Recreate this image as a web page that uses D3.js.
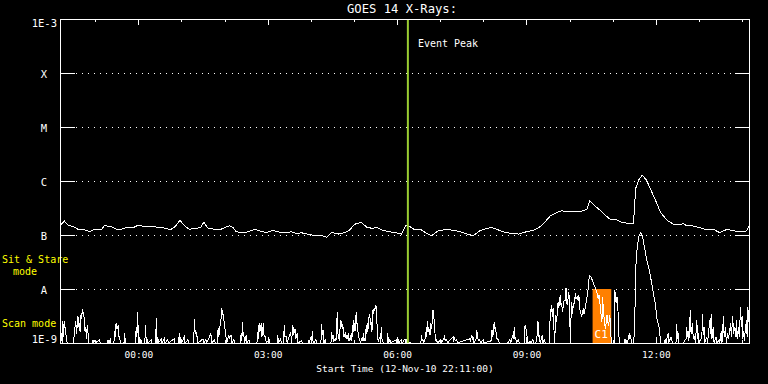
<!DOCTYPE html>
<html><head><meta charset="utf-8">
<script src="https://cdn.jsdelivr.net/npm/d3@7"></script>
<style>
body{margin:0;background:#000;}
svg{display:block;background:#000;}
text{font-family:"DejaVu Sans Mono",monospace;}
</style>
</head><body>
<svg id="chart" width="768" height="384"></svg>
<script>
// ---------- data ----------
const titleText = "GOES 14 X-Rays:";
const startISO = "2010-11-12T22:11:00Z";
const spanMinutes = 960;
const xLabel = "Start Time (12-Nov-10 22:11:00)";
const levelValues = [1e-9, 1e-8, 1e-7, 1e-6, 1e-5, 1e-4, 1e-3];
const levelLabels = ["1E-9", "A", "B", "C", "M", "X", "1E-3"];
const hourTickLabels = ["00:00", "03:00", "06:00", "09:00", "12:00"];
const eventPeakMinute = 484;           // 06:15
const eventLabel = "Event Peak";
const sitStareWindow = [741, 767];     // minutes after start
const flareLabel = "C1";
const modeLabels = ["Sit & Stare", "mode", "Scan mode"];

// 1-8 A channel: [minutes after start, flux W/m^2]
const longChannel = [[0,1.5e-7],[2,1.58e-7],[6,1.82e-7],[11,1.53e-7],[18,1.43e-7],[25,1.28e-7],[32,1.29e-7],[41,1.15e-7],[48,1.28e-7],[57,1.24e-7],[62,1.49e-7],[71,1.43e-7],[78,1.28e-7],[85,1.28e-7],[92,1.37e-7],[102,1.37e-7],[109,1.53e-7],[118,1.41e-7],[129,1.43e-7],[139,1.37e-7],[148,1.33e-7],[153,1.24e-7],[160,1.43e-7],[167,1.87e-7],[173,1.49e-7],[180,1.28e-7],[190,1.33e-7],[196,1.39e-7],[200,1.72e-7],[206,1.33e-7],[215,1.28e-7],[224,1.28e-7],[229,1.37e-7],[236,1.49e-7],[241,1.37e-7],[245,1.15e-7],[255,1.10e-7],[262,1.15e-7],[271,1.28e-7],[278,1.19e-7],[287,1.10e-7],[296,1.22e-7],[306,1.12e-7],[315,1.10e-7],[322,1.15e-7],[329,1.07e-7],[336,1.10e-7],[345,1.03e-7],[355,9.7e-8],[364,9.7e-8],[371,9.1e-8],[378,1.12e-7],[387,1.04e-7],[397,1.12e-7],[403,1.24e-7],[410,1.58e-7],[419,1.72e-7],[427,1.39e-7],[434,1.33e-7],[441,1.37e-7],[448,1.24e-7],[457,1.15e-7],[466,1.12e-7],[475,1.04e-7],[481,1.49e-7],[487,1.43e-7],[494,1.24e-7],[503,1.24e-7],[510,1.07e-7],[517,9.7e-8],[526,1.19e-7],[538,1.28e-7],[547,1.22e-7],[557,1.15e-7],[566,1.04e-7],[575,9.7e-8],[584,1.19e-7],[594,1.33e-7],[601,1.37e-7],[610,1.24e-7],[619,1.12e-7],[628,1.07e-7],[638,1.04e-7],[649,1.15e-7],[659,1.22e-7],[668,1.43e-7],[675,1.76e-7],[682,2.25e-7],[691,2.59e-7],[698,2.82e-7],[705,2.67e-7],[714,2.70e-7],[726,2.78e-7],[733,2.99e-7],[737,4.32e-7],[743,3.59e-7],[751,2.90e-7],[758,2.35e-7],[765,1.98e-7],[775,1.90e-7],[781,1.74e-7],[788,1.66e-7],[798,1.60e-7],[799,2.90e-7],[801,7.32e-7],[805,1.04e-6],[810,1.28e-6],[816,1.04e-6],[821,7.32e-7],[828,4.58e-7],[835,2.70e-7],[844,1.90e-7],[853,1.60e-7],[863,1.53e-7],[867,1.66e-7],[872,1.47e-7],[881,1.47e-7],[893,1.33e-7],[900,1.24e-7],[909,1.28e-7],[918,1.10e-7],[928,1.28e-7],[937,1.20e-7],[946,1.15e-7],[955,1.19e-7],[960,1.53e-7]];

// 0.5-4 A channel: [minutes after start, flux W/m^2]
const shortChannel = [[0,1.5e-9],[2,1.5e-9],[3,1e-9],[4,2.5e-9],[5,1.3e-9],[6,2.5e-9],[8,1.5e-9],[10,1e-9],[14,1e-9],[19,1e-9],[20,1.7e-9],[22,2.5e-9],[23,1.5e-9],[25,3.1e-9],[26,2.0e-9],[27,2.3e-9],[28,1.6e-9],[29,3.3e-9],[30,2.8e-9],[31,4.2e-9],[32,3.5e-9],[33,3.8e-9],[34,2.2e-9],[35,1.6e-9],[36,2.0e-9],[37,1.2e-9],[38,2.15e-9],[39,1.5e-9],[40,1e-9],[45,1e-9],[46,1.15e-9],[47,1e-9],[48,1.15e-9],[49,1e-9],[55,1.15e-9],[56,1e-9],[66,1e-9],[67,1.15e-9],[68,1e-9],[70,1.15e-9],[71,1e-9],[75,1e-9],[76,1.7e-9],[77,1.3e-9],[78,2.3e-9],[79,1.8e-9],[81,2.15e-9],[82,1.3e-9],[83,1.3e-9],[84,1e-9],[89,1e-9],[90,1.5e-9],[91,1e-9],[105,1e-9],[106,2.0e-9],[107,1.3e-9],[108,3.8e-9],[109,1.3e-9],[110,1e-9],[111,1.3e-9],[112,1e-9],[113,1.15e-9],[114,1e-9],[118,1e-9],[119,2.15e-9],[120,1e-9],[121,1.2e-9],[122,1e-9],[127,1.15e-9],[128,1e-9],[133,1e-9],[134,2.9e-9],[135,1e-9],[136,1.3e-9],[137,1e-9],[141,1.2e-9],[142,1e-9],[145,1.2e-9],[146,1e-9],[150,1.15e-9],[151,1e-9],[159,1.2e-9],[160,1e-9],[165,1e-9],[166,1.5e-9],[167,1e-9],[168,1.3e-9],[169,1e-9],[173,1.3e-9],[174,1e-9],[178,1.15e-9],[179,1e-9],[186,1e-9],[187,2.75e-9],[188,1.5e-9],[189,1.7e-9],[190,1.3e-9],[191,1.3e-9],[192,1e-9],[199,1.2e-9],[200,1e-9],[203,1.15e-9],[204,1e-9],[210,1.5e-9],[211,1e-9],[215,1.15e-9],[216,1e-9],[219,1e-9],[220,1.9e-9],[221,1.3e-9],[223,2.3e-9],[224,2.8e-9],[225,4.4e-9],[226,3.7e-9],[227,3.3e-9],[228,2.6e-9],[229,2.3e-9],[230,1.5e-9],[231,1.3e-9],[232,1e-9],[235,1.4e-9],[236,1.2e-9],[237,1.4e-9],[238,1.4e-9],[239,1e-9],[242,1.15e-9],[243,1e-9],[251,1e-9],[252,1.5e-9],[253,1.1e-9],[254,2.4e-9],[255,1.3e-9],[256,1.3e-9],[257,1e-9],[259,1.4e-9],[260,1e-9],[263,1.15e-9],[264,1e-9],[274,1e-9],[275,1.6e-9],[276,1.2e-9],[277,2.3e-9],[278,1.6e-9],[280,2.3e-9],[281,1.3e-9],[283,2.3e-9],[284,1.3e-9],[286,1.3e-9],[287,1e-9],[291,1.15e-9],[292,1e-9],[302,1e-9],[303,1.4e-9],[304,1e-9],[307,1.2e-9],[308,1e-9],[311,1e-9],[312,2.15e-9],[313,1.3e-9],[315,1.3e-9],[316,1e-9],[321,1.6e-9],[322,1e-9],[324,2.15e-9],[325,1.4e-9],[327,1.8e-9],[328,1.2e-9],[330,1.5e-9],
[331,1e-9],[336,1.1e-9],[337,1e-9],[345,1e-9],[346,1.15e-9],[347,1e-9],[349,1.3e-9],[350,1e-9],[351,1.65e-9],[352,1.1e-9],[353,1e-9],[356,1.15e-9],[357,1e-9],[363,1e-9],[364,2.2e-9],[365,1.4e-9],[366,1.75e-9],[367,1e-9],[369,1.15e-9],[370,1e-9],[377,1e-9],[378,1.6e-9],[379,1.2e-9],[380,1.4e-9],[381,1.1e-9],[383,1.2e-9],[384,1.1e-9],[385,2.4e-9],[386,3.7e-9],[387,1.2e-9],[388,1.3e-9],[389,1.1e-9],[390,2.7e-9],[391,2.0e-9],[392,2.6e-9],[393,1.8e-9],[394,2.0e-9],[395,1.3e-9],[397,1.5e-9],[398,1.2e-9],[399,1.4e-9],[400,1.2e-9],[401,1.5e-9],[402,1.1e-9],[404,1.3e-9],[405,1.1e-9],[406,1.5e-9],[407,1.3e-9],[408,2.7e-9],[409,1.6e-9],[410,2.3e-9],[411,1.7e-9],[412,3.8e-9],[413,2.3e-9],[414,2.3e-9],[415,1.3e-9],[417,1.15e-9],[418,1e-9],[420,1.2e-9],[421,1.1e-9],[422,1.5e-9],[423,1.1e-9],[424,1.2e-9],[425,1.1e-9],[426,2.15e-9],[427,1.5e-9],[428,2.3e-9],[429,1.8e-9],[430,3.1e-9],[431,3.3e-9],[432,2.2e-9],[433,2.3e-9],[434,1.6e-9],[435,4.1e-9],[436,3.5e-9],[437,4.4e-9],[438,3.9e-9],[439,5.0e-9],[440,4.6e-9],[441,2.3e-9],[442,1.2e-9],[443,1.1e-9],[445,1.3e-9],[446,1e-9],[447,2.0e-9],[448,1.2e-9],[449,1.1e-9],[450,1e-9],[455,1e-9],[456,1.5e-9],[457,1e-9],[459,1.15e-9],[460,1e-9],[468,1.15e-9],[469,1e-9],[470,1.3e-9],[471,1e-9],[475,1.15e-9],[476,1e-9],[480,1.2e-9],[481,1e-9],[482,1.1e-9],[483,1e-9],[487,1.05e-9],[488,1e-9],[502,1e-9],[503,1.4e-9],[504,1.1e-9],[505,1.15e-9],[506,1e-9],[508,1.2e-9],[509,1.6e-9],[510,1.3e-9],[511,2.5e-9],[512,1.6e-9],[513,2.0e-9],[514,1.6e-9],[515,1.4e-9],[516,2.3e-9],[517,1.8e-9],[518,2.7e-9],[519,4.1e-9],[520,3.2e-9],[521,2.3e-9],[522,1.3e-9],[523,1.1e-9],[524,1.15e-9],[525,1e-9],[530,1.15e-9],[531,1e-9],[534,1.2e-9],[535,1.3e-9],[536,1.1e-9],[538,1.15e-9],[539,1e-9],[547,1.3e-9],[548,1.1e-9],[549,1.2e-9],[550,1.1e-9],[552,1.15e-9],[553,1e-9],[570,1.2e-9],[571,1.1e-9],[573,1.4e-9],[574,1.2e-9],[575,1.3e-9],[576,1e-9],[579,1.2e-9],[580,1.7e-9],[581,1.3e-9],[582,1.1e-9],[584,1.15e-9],[585,1e-9],[589,1.15e-9],[590,1e-9],[600,1.1e-9],[601,1.75e-9],[602,1.3e-9],[603,1.5e-9],[604,2.4e-9],[605,1.8e-9],[606,2.0e-9],[607,1.4e-9],[608,1.2e-9],[610,1.15e-9],[611,1e-9],[623,1e-9],[624,1.06e-9],[626,1.15e-9],[627,1e-9],[630,1.4e-9],[631,1.2e-9],[632,1.95e-9],[633,1.2e-9],[634,1.3e-9],[635,1e-9],[638,1.15e-9],[639,1e-9],[646,1e-9],[647,2.15e-9],[648,1.9e-9],[649,1.6e-9],[650,1.3e-9],[651,1e-9],[654,1.06e-9],[655,1e-9],[658,1.15e-9],[659,1e-9],
[662,1e-9],[664,1.4e-9],[665,2.5e-9],[666,1.3e-9],[667,1.4e-9],[668,1e-9],[671,1.4e-9],[672,1e-9],[674,1.2e-9],[675,1e-9],[681,1e-9],[682,3.5e-9],[684,5.0e-9],[685,3.0e-9],[686,4.4e-9],[687,2.2e-9],[688,1e-9],[690,3.3e-9],[691,2.5e-9],[693,5.8e-9],[694,4.5e-9],[696,7.7e-9],[697,5.0e-9],[698,5.4e-9],[699,3.8e-9],[700,4.7e-9],[701,6.0e-9],[703,6.2e-9],[704,1.06e-8],[705,5.5e-9],[706,5.0e-9],[707,7.0e-9],[708,8.9e-9],[709,5.0e-9],[710,1e-9],[711,3.0e-9],[712,5.8e-9],[713,3.5e-9],[714,4.7e-9],[716,6.0e-9],[717,8.3e-9],[718,6.5e-9],[720,7.2e-9],[721,6.0e-9],[722,7.7e-9],[723,4.5e-9],[724,3.8e-9],[726,3.1e-9],[728,4.4e-9],[729,3.5e-9],[730,3.8e-9],[732,5.8e-9],[734,8.0e-9],[735,1.03e-8],[736,1.5e-8],[737,1.77e-8],[739,1.65e-8],[741,1.4e-8],[743,1.19e-8],[745,1.03e-8],[747,8.5e-9],[749,6.5e-9],[750,7.7e-9],[751,5.5e-9],[752,5.0e-9],[753,3.0e-9],[754,2.5e-9],[755,7.2e-9],[756,4.0e-9],[757,2.9e-9],[758,2.2e-9],[759,1.8e-9],[760,2.5e-9],[761,3.3e-9],[762,2.5e-9],[763,2.1e-9],[764,2.5e-9],[765,3.3e-9],[766,2.0e-9],[767,1e-9],[771,1e-9],[772,9.6e-9],[773,6.0e-9],[774,5.8e-9],[775,7.2e-9],[776,4.4e-9],[777,3.0e-9],[778,1e-9],[785,1e-9],[786,1.2e-9],[787,1e-9],[788,1.1e-9],[789,1e-9],[791,1.2e-9],[792,1.5e-9],[793,1.2e-9],[794,1.4e-9],[795,1e-9],[798,1e-9],[799,1.5e-9],[800,4.4e-9],[801,2.4e-8],[802,3.8e-8],[803,5.6e-8],[804,7.0e-8],[805,8.7e-8],[806,1.0e-7],[808,1.12e-7],[809,1.05e-7],[811,8.7e-8],[813,6.1e-8],[815,4.3e-8],[817,3.2e-8],[819,2.5e-8],[820,2.25e-8],[822,1.58e-8],[824,1.1e-8],[826,7.7e-9],[828,5.5e-9],[829,4.4e-9],[831,2.5e-9],[833,2.15e-9],[835,1.3e-9],[836,1e-9],[841,1e-9],[842,1.2e-9],[843,1e-9],[846,1.5e-9],
[847,1e-9],[850,1.3e-9],[851,1.2e-9],[852,1e-9],[857,1e-9],[858,2.2e-9],[859,1.2e-9],[860,1.5e-9],[861,1e-9],[867,1e-9],[871,1.2e-9],[872,2.0e-9],[873,1.3e-9],[874,1.7e-9],[875,1.1e-9],[877,4.1e-9],[878,1.5e-9],[880,2.3e-9],[881,1.2e-9],[883,1.3e-9],[884,1e-9],[886,2.7e-9],[887,1.2e-9],[888,1.5e-9],[889,1e-9],[893,1.3e-9],[894,3.5e-9],[895,1.4e-9],[896,2.0e-9],[897,1e-9],[900,1.3e-9],[901,1e-9],[904,2.7e-9],[905,1.5e-9],[906,3.5e-9],[907,1.2e-9],[909,2.0e-9],[910,1e-9],[913,1.3e-9],[914,1e-9],[917,1.15e-9],[918,1e-9],[920,1.7e-9],[921,1e-9],[923,3.1e-9],[924,1.3e-9],[926,2.0e-9],[927,1e-9],[929,1.5e-9],[930,1.2e-9],[933,2.3e-9],[934,1.3e-9],[936,3.1e-9],[937,1.5e-9],[939,2.0e-9],[940,1.3e-9],[941,2.7e-9],[942,1.2e-9],[944,2.0e-9],[945,1.3e-9],[947,4.7e-9],[948,2.0e-9],[949,3.1e-9],[950,1.2e-9],[951,1.7e-9],[952,1.1e-9],[955,2.7e-9],[956,1.3e-9],[957,4.7e-9],[958,2.5e-9],[960,3.5e-9]];

// ---------- layout ----------
const L = 60, R = 750, T = 19, B = 343;
const svg = d3.select("#chart");
const start = new Date(startISO);
const toDate = m => new Date(start.getTime() + m * 60000);
const end = toDate(spanMinutes);

const x = d3.scaleUtc().domain([start, end]).range([L, R]);
const y = d3.scaleLog().domain([levelValues[0], levelValues[levelValues.length - 1]]).range([B, T]).clamp(true);

function label(xp, yp, txt, opts) {
  return svg.append("text").attr("x", xp).attr("y", yp)
    .attr("fill", opts.fill || "#fff").attr("font-size", opts.size || 10)
    .attr("text-anchor", opts.anchor || "start").text(txt);
}

// title
label(402, 13, titleText, {anchor: "middle", size: 12.2});

// hour ticks
const hourDates = d3.utcHour.range(d3.utcHour.ceil(start), end);
const labelDates = hourTickLabels.map(s => {
  const [hh, mm] = s.split(":").map(Number);
  return hourDates.find(d => d.getUTCHours() === hh && d.getUTCMinutes() === mm);
});
function tickLen(d){ return labelDates.some(ld => ld && ld.getTime() === d.getTime()) ? 6 : 3; }

const gTop = svg.append("g").attr("transform", `translate(0,${T})`);
gTop.selectAll("line").data(hourDates).join("line")
  .attr("x1", d => Math.round(x(d)) + 0.5).attr("x2", d => Math.round(x(d)) + 0.5)
  .attr("y1", 0).attr("y2", d => tickLen(d)).attr("stroke", "#fff").attr("shape-rendering", "crispEdges");
const gBot = svg.append("g").attr("transform", `translate(0,${B})`);
gBot.selectAll("line").data(hourDates).join("line")
  .attr("x1", d => Math.round(x(d)) + 0.5).attr("x2", d => Math.round(x(d)) + 0.5)
  .attr("y1", 0).attr("y2", d => -tickLen(d)).attr("stroke", "#fff").attr("shape-rendering", "crispEdges");

// bottom axis labels via d3 axis
const xAxis = d3.axisBottom(x).tickValues(labelDates).tickSize(0).tickPadding(8)
  .tickFormat((d, i) => hourTickLabels[i]);
const gx = svg.append("g").attr("transform", `translate(0,${B})`).call(xAxis);
gx.select(".domain").remove();
gx.selectAll("text").attr("fill", "#fff").attr("font-size", 9.5)
  .attr("font-family", "DejaVu Sans Mono, monospace");

label(405, 372, xLabel, {anchor: "middle", size: 9.5});

// level grid lines (dotted) + side ticks
const inner = levelValues.slice(1, -1);
svg.selectAll(".grid").data(inner).join("line").attr("class", "grid")
  .attr("x1", 76).attr("x2", 735)
  .attr("y1", d => Math.round(y(d)) + 0.5).attr("y2", d => Math.round(y(d)) + 0.5)
  .attr("stroke", "#fff").attr("stroke-dasharray", "1,5").attr("shape-rendering", "crispEdges");
svg.selectAll(".ltick").data(inner).join("line").attr("class", "ltick")
  .attr("x1", L).attr("x2", L + 15)
  .attr("y1", d => Math.round(y(d)) + 0.5).attr("y2", d => Math.round(y(d)) + 0.5)
  .attr("stroke", "#fff").attr("shape-rendering", "crispEdges");
svg.selectAll(".rtick").data(inner).join("line").attr("class", "rtick")
  .attr("x1", R - 15).attr("x2", R)
  .attr("y1", d => Math.round(y(d)) + 0.5).attr("y2", d => Math.round(y(d)) + 0.5)
  .attr("stroke", "#fff").attr("shape-rendering", "crispEdges");

// y labels
const lastI = levelValues.length - 1;
svg.selectAll(".ylab").data(levelValues).join("text").attr("class", "ylab")
  .attr("x", (d, i) => (i === 0 || i === lastI) ? 57 : 44)
  .attr("y", (d, i) => i === 0 ? y(d) : (i === lastI ? y(d) + 8 : y(d) + 4.5))
  .attr("text-anchor", (d, i) => (i === 0 || i === lastI) ? "end" : "middle")
  .attr("fill", "#fff").attr("font-size", 10.5)
  .text((d, i) => levelLabels[i]);

// mode labels (yellow)
label(2, 263, modeLabels[0], {fill: "#ffff00", size: 10});
label(13, 275, modeLabels[1], {fill: "#ffff00", size: 10});
label(2, 327, modeLabels[2], {fill: "#ffff00", size: 10});

// sit & stare / flare box
const bx0 = x(toDate(sitStareWindow[0])), bx1 = x(toDate(sitStareWindow[1]));
svg.append("rect").attr("x", bx0).attr("y", y(1e-8)).attr("width", bx1 - bx0)
  .attr("height", y(1e-9) - y(1e-8)).attr("fill", "#ff8000");

// clip
svg.append("clipPath").attr("id", "plotclip").append("rect")
  .attr("x", L).attr("y", T).attr("width", R - L).attr("height", B - T);

const line = d3.line().x(d => x(toDate(d[0]))).y(d => y(d[1]));
const gData = svg.append("g").attr("clip-path", "url(#plotclip)");
gData.append("path").datum(shortChannel).attr("d", line)
  .attr("fill", "none").attr("stroke", "#fff").attr("stroke-width", 1)
  .attr("shape-rendering", "crispEdges");
gData.append("path").datum(longChannel).attr("d", line)
  .attr("fill", "none").attr("stroke", "#fff").attr("stroke-width", 1)
  .attr("shape-rendering", "crispEdges");

label(bx0 + 2, 338, flareLabel, {size: 11});

// event peak line
const ex = x(toDate(eventPeakMinute));
svg.append("line").attr("x1", ex).attr("x2", ex).attr("y1", T).attr("y2", B)
  .attr("stroke", "#9acd32").attr("stroke-width", 2);
label(ex + 10, 46.5, eventLabel, {size: 10});

// frame
svg.append("rect").attr("x", L + 0.5).attr("y", T + 0.5).attr("width", R - L - 1).attr("height", B - T)
  .attr("fill", "none").attr("stroke", "#fff").attr("shape-rendering", "crispEdges");
</script>
</body></html>
